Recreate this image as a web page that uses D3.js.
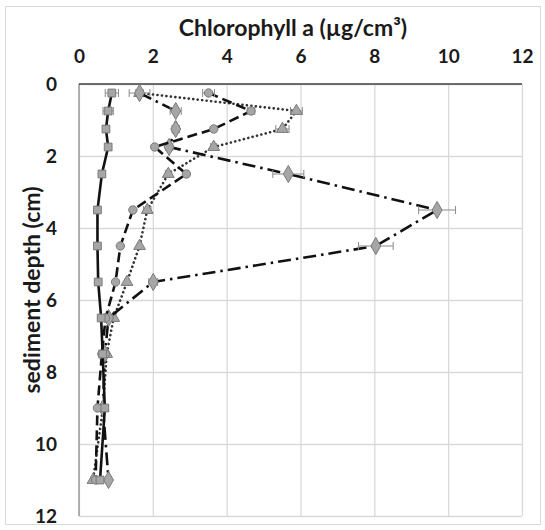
<!DOCTYPE html>
<html>
<head>
<meta charset="utf-8">
<script src="https://cdn.jsdelivr.net/npm/d3@7"></script>
<style>
  body { margin: 0; background: #fff; }
  text { font-family: Lato, "DejaVu Sans", sans-serif; font-weight: bold; fill: #1a1a1a; }
</style>
</head>
<body>
<svg id="chart" width="545" height="530"></svg>
<script>
const depth = [0.25, 0.75, 1.25, 1.75, 2.5, 3.5, 4.5, 5.5, 6.5, 7.5, 9, 11];

const squares   = [0.89, 0.79, 0.73, 0.79, 0.62, 0.5, 0.5, 0.52, 0.6, 0.64, 0.7, 0.57];
const circles   = [3.51, 4.66, 3.65, 2.05, 2.91, 1.46, 1.12, 0.99, 0.72, 0.62, 0.5, 0.45];
const triangles = [1.64, 5.89, 5.51, 3.65, 2.42, 1.85, 1.64, 1.3, 0.94, 0.75, 0.65, 0.38];
const diamonds  = [1.64, 2.62, 2.62, 2.44, 5.67, 9.7, 8.04, 2.01, 0.8, 0.7, 0.65, 0.8];

const squaresErr   = [0.18, 0.14, 0.05, 0.05, 0.05, 0.04, 0.04, 0.04, 0.05, 0.05, 0.05, 0.05];
const circlesErr   = [0.16, 0.1, 0.06, 0.06, 0.06, 0.05, 0.05, 0.05, 0.05, 0.05, 0.05, 0.05];
const trianglesErr = [0.1, 0.16, 0.18, 0.08, 0.08, 0.1, 0.05, 0.05, 0.05, 0.05, 0.05, 0.05];
const diamondsErr  = [0.28, 0.15, 0.1, 0.1, 0.42, 0.5, 0.47, 0.12, 0.05, 0.05, 0.05, 0.05];

const xTicks = [0, 2, 4, 6, 8, 10, 12];
const yTicks = [0, 2, 4, 6, 8, 10, 12];

const W = 545, H = 530;
const m = { top: 84, right: 23, bottom: 14, left: 79 };

const svg = d3.select("#chart");

// outer chart border
svg.append("rect")
    .attr("x", 5.5).attr("y", 6.5)
    .attr("width", W - 10).attr("height", H - 12)
    .attr("fill", "none")
    .attr("stroke", "#d9d9d9");

const x = d3.scaleLinear().domain([0, 12]).range([m.left, W - m.right]);
const y = d3.scaleLinear().domain([0, 12]).range([m.top, H - m.bottom]);

// gridlines
svg.append("g")
    .attr("transform", `translate(0,${m.top})`)
    .call(d3.axisBottom(x).tickValues(xTicks).tickSize(y(12) - y(0)).tickFormat(""))
    .call(g => g.select(".domain").remove())
    .selectAll("line").attr("stroke", "#d9d9d9").attr("stroke-width", 1.3);

svg.append("g")
    .attr("transform", `translate(${m.left},0)`)
    .call(d3.axisRight(y).tickValues(yTicks).tickSize(x(12) - x(0)).tickFormat(""))
    .call(g => g.select(".domain").remove())
    .selectAll("line").attr("stroke", "#d9d9d9").attr("stroke-width", 1.3);

// left frame and top axis line
svg.append("line")
    .attr("x1", m.left).attr("x2", m.left)
    .attr("y1", y(0)).attr("y2", y(12))
    .attr("stroke", "#a0a0a0").attr("stroke-width", 1.6);

svg.append("line")
    .attr("x1", m.left).attr("x2", x(12))
    .attr("y1", y(0)).attr("y2", y(0))
    .attr("stroke", "#404040").attr("stroke-width", 1.6);

// tick labels
svg.append("g")
    .attr("transform", `translate(0,${m.top - 28})`)
    .call(d3.axisTop(x).tickValues(xTicks).tickSize(0).tickPadding(0))
    .call(g => g.select(".domain").remove())
    .selectAll("text")
    .attr("dy", "0.35em")
    .style("font-size", "19px")
    .style("font-family", "Lato, sans-serif");

svg.append("g")
    .attr("transform", `translate(${m.left - 22},0)`)
    .call(d3.axisLeft(y).tickValues(yTicks).tickSize(0).tickPadding(0))
    .call(g => g.select(".domain").remove())
    .selectAll("text")
    .style("font-size", "19px")
    .style("font-family", "Lato, sans-serif");

// axis titles
svg.append("text")
    .attr("x", 293).attr("y", 30)
    .attr("text-anchor", "middle")
    .attr("dominant-baseline", "middle")
    .style("font-size", "23px")
    .text("Chlorophyll a (µg/cm³)");

svg.append("text")
    .attr("transform", "translate(34,290) rotate(-90)")
    .attr("text-anchor", "middle")
    .attr("dominant-baseline", "middle")
    .style("font-size", "23px")
    .text("sediment depth (cm)");

const series = [
    { vals: triangles, err: trianglesErr, dash: "0.1,4.4", cap: "round", width: 2.6, color: "#333", shape: d3.symbolTriangle, size: 60 },
    { vals: diamonds, err: diamondsErr, dash: "13,5,2.5,5", cap: "butt", width: 2.6, color: "#111", shape: d3.symbolDiamond, size: 85 },
    { vals: circles, err: circlesErr, dash: "10,5", cap: "butt", width: 2.6, color: "#111", shape: d3.symbolCircle, size: 55 },
    { vals: squares, err: squaresErr, dash: null, cap: "butt", width: 2.6, color: "#111", shape: d3.symbolSquare, size: 60 }
];

const line = d3.line().x(d => x(d.v)).y(d => y(d.d));

series.forEach(s => {
    const pts = depth.map((d, i) => ({ d: d, v: s.vals[i], e: s.err[i] }));
    const g = svg.append("g");

    g.append("path")
        .datum(pts)
        .attr("d", line)
        .attr("fill", "none")
        .attr("stroke", s.color)
        .attr("stroke-width", s.width)
        .attr("stroke-linecap", s.cap)
        .attr("stroke-dasharray", s.dash);

    // horizontal error bars
    const eb = g.selectAll(".err").data(pts).join("g").attr("stroke", "#8a8a8a").attr("stroke-width", 1);
    eb.append("line")
        .attr("x1", d => x(d.v - d.e)).attr("x2", d => x(d.v + d.e))
        .attr("y1", d => y(d.d)).attr("y2", d => y(d.d));
    eb.append("line")
        .attr("x1", d => x(d.v - d.e)).attr("x2", d => x(d.v - d.e))
        .attr("y1", d => y(d.d) - 4).attr("y2", d => y(d.d) + 4);
    eb.append("line")
        .attr("x1", d => x(d.v + d.e)).attr("x2", d => x(d.v + d.e))
        .attr("y1", d => y(d.d) - 4).attr("y2", d => y(d.d) + 4);

    g.selectAll(".mk").data(pts).join("path")
        .attr("transform", d => `translate(${x(d.v)},${y(d.d)})`)
        .attr("d", d3.symbol().type(s.shape).size(s.size))
        .attr("fill", "#a6a6a6")
        .attr("stroke", "#7a7a7a")
        .attr("stroke-width", 1);
});
</script>
</body>
</html>
